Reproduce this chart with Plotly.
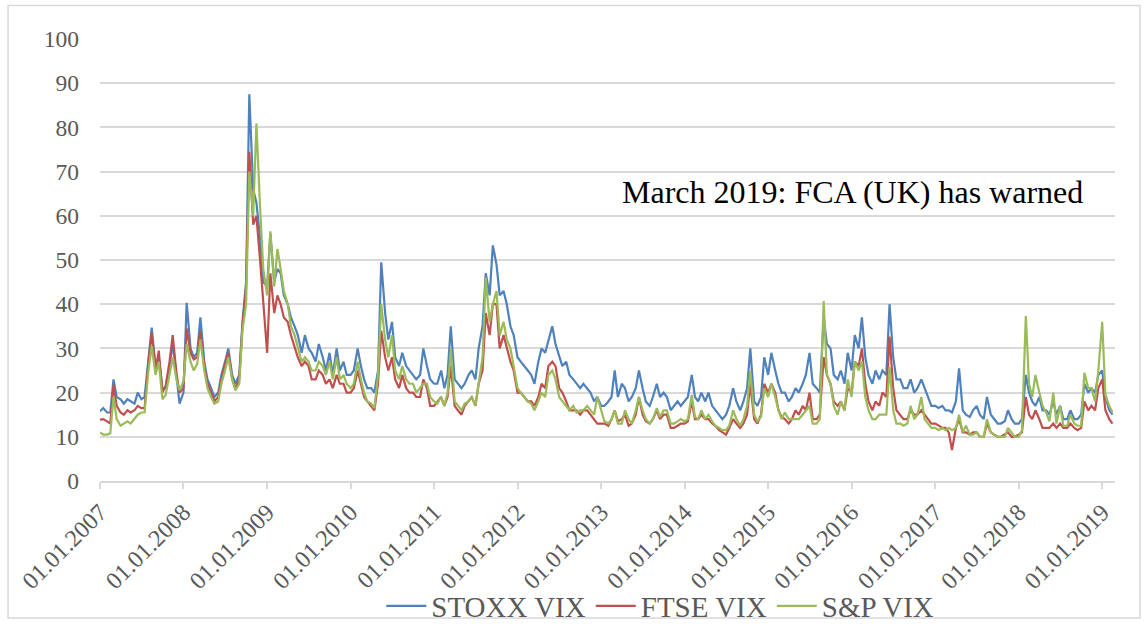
import pandas as pd
import plotly.graph_objects as go

# semi-monthly samples (1st and 15th of each month), 2007-01 .. 2019-02
stoxx_vix = [
    # 2007
    15.8, 16.5, 15.5, 15.5, 23, 19, 18.5, 17.5, 18.5, 18, 17.5, 20, 18.5, 19, 28, 34.7, 26, 28, 21, 21, 26, 31, 24, 17.5,
    # 2008
    20, 40.3, 30, 28, 29, 37, 27, 23, 21, 19, 20, 24, 27, 30, 24, 22, 24, 36, 45, 87.5, 66, 63, 55, 45,
    # 2009
    44, 56, 45, 48, 47, 42, 40, 37, 35, 33, 29, 33, 30, 29, 27, 31, 28, 25, 29, 24, 30, 25, 27, 24,
    # 2010
    24, 25, 30, 26, 23, 21, 21, 20, 25, 49.5, 38, 32, 36, 28, 26, 29, 26, 25, 24, 23, 24, 30, 26, 23,
    # 2011
    22, 22, 25, 21, 24, 35, 23, 22, 21, 22, 24, 25, 23, 30, 35, 47, 42, 53.3, 49, 42, 43, 40, 35, 33,
    # 2012
    28, 27, 26, 25, 24, 22, 27, 30, 29, 32, 35, 31, 28, 26, 27, 24, 23, 22, 21, 22, 21, 20, 18, 19,
    # 2013
    17, 17, 18, 19, 25, 19, 22, 21, 18, 19, 21, 25, 21, 18, 17, 19, 22, 19, 20, 19, 16, 17, 18, 17,
    # 2014
    18, 19, 24, 19, 18, 20, 18, 20, 17, 16, 15, 14, 15, 17, 21, 18, 16, 18, 21, 30, 18, 17, 19, 28,
    # 2015
    24, 29, 25, 22, 20, 20, 18, 19, 21, 20, 22, 24, 29, 22, 21, 20, 37, 31, 30, 24, 23, 25, 22, 29,
    # 2016
    25, 33, 30, 37, 28, 24, 22, 25, 23, 25, 24, 40, 28, 23, 23, 21, 21, 23, 20, 21, 23, 21, 19, 17,
    # 2017
    17, 16.5, 17, 16, 16, 15.5, 18, 25.5, 16, 15, 14.5, 16, 17, 15, 14, 19, 15, 14, 13, 13, 13.5, 16, 14, 13,
    # 2018
    13, 14, 24, 20, 18, 17, 19, 16, 16, 15, 18, 15, 17, 14, 14, 16, 14, 14, 15, 22, 20, 21, 20, 24,
    # 2019
    25, 19, 16, 15,
]

ftse_vix = [
    # 2007
    13.9, 14, 13.5, 13, 21.8, 17, 15.5, 15, 16, 15.5, 16, 17, 16.5, 16.5, 27, 33.5, 25, 29.5, 20, 21.5, 27, 33, 24.5, 20,
    # 2008
    21, 34.5, 29, 27.5, 28, 34, 26, 22, 20, 18, 19, 23, 26.5, 29, 23, 21, 23, 35, 44, 74.5, 58, 60, 50, 40,
    # 2009
    29, 47, 38, 42, 40, 37, 36, 33, 30, 28, 26, 27, 26, 23, 23, 25, 24, 22, 23, 21, 24, 22, 22, 20,
    # 2010
    20, 21, 25, 22, 19, 18, 17, 16, 22, 34, 28, 25, 28, 23, 21, 24, 21, 20, 20, 19, 19, 23, 21, 17,
    # 2011
    17, 18, 19, 17, 19, 26, 17, 16, 15, 17, 18, 19, 17, 22, 25, 38, 33, 40, 40, 30, 33, 30, 27, 25,
    # 2012
    20, 20, 19, 18, 18, 17, 19, 22, 21, 26, 27, 26, 21, 20, 18, 16, 16, 16, 15, 16, 16, 15, 14, 13,
    # 2013
    13, 13, 12.5, 14, 16, 13.5, 14, 15, 12.5, 13, 15, 19, 15, 13.5, 13, 14, 16, 14, 15, 15, 12, 12, 12.5, 13,
    # 2014
    13, 13.5, 18, 14, 14, 15, 14, 14, 13, 12.5, 11.5, 11, 10.5, 12, 14, 13, 12, 13, 15, 22, 14, 13, 15, 22,
    # 2015
    20, 22, 20, 16, 14.5, 14, 13, 14, 16, 15, 17, 16, 20, 14, 14, 15, 28, 24, 22, 18, 17, 18, 16, 21,
    # 2016
    20, 27, 26, 30, 22, 18, 16, 18, 17, 20, 19, 32.7, 21, 16, 15, 14, 14, 16, 15, 15, 16, 15, 14, 13,
    # 2017
    13, 12.5, 12, 12, 11, 7, 12, 14, 11, 11, 10.5, 11, 11, 10, 10, 13, 11, 10.5, 10, 10, 10.5, 11, 10, 10,
    # 2018
    10.5, 11, 19, 15, 14, 16, 14, 12, 12, 12, 13, 12, 13, 12, 12, 13, 12, 11.5, 12, 18, 16, 17, 16, 21,
    # 2019
    23, 16, 14, 13,
]

sp_vix = [
    # 2007
    11, 10.5, 10.5, 10.8, 19, 14, 12.5, 13, 13.5, 13, 14, 15, 15.5, 15.5, 25, 30.5, 24, 27, 18.5, 19.5, 24, 28, 23, 20.5,
    # 2008
    22.5, 31, 27, 25, 26.5, 32, 25, 21, 19, 17.5, 18, 22, 25, 28, 23, 20.5, 22, 34, 40, 70, 60, 80.9, 62, 48,
    # 2009
    42, 56.5, 44, 52.5, 48, 43, 40, 35, 33, 30, 27, 28, 27, 25, 25, 27, 26, 24, 27, 23, 28, 23, 24, 22,
    # 2010
    21, 22, 27, 23, 20, 18, 17.5, 16.5, 24, 40, 32, 28, 33, 25, 23, 26, 23, 22, 22, 20, 21, 22, 22, 19,
    # 2011
    18, 17.5, 19, 17, 20, 30, 18, 17, 16, 17.5, 18, 19, 17, 22, 28, 46, 36, 40, 43, 33, 36, 32, 30, 26,
    # 2012
    21, 20, 19, 18, 17.5, 16, 18, 20, 19, 24, 25, 23, 19, 18, 17, 16, 17, 15.5, 16, 16, 17, 16, 15, 19,
    # 2013
    16, 13.5, 13, 14, 16, 13, 13, 16, 14, 13, 16, 19, 16, 14, 13, 14, 16.5, 14.5, 16, 16, 13, 13, 13.5, 14,
    # 2014
    13.5, 14, 19.5, 14.5, 14, 16, 14, 15, 13.5, 12.5, 12, 11.5, 11.5, 12.5, 16, 14, 12.5, 14, 17, 25, 15, 13.5, 14.5, 21,
    # 2015
    19, 22, 19, 16, 14, 15.5, 14, 14, 14, 14, 15, 16, 17, 13, 13, 14, 40.7, 24, 22, 17, 15, 18, 16, 23,
    # 2016
    19, 27, 25, 27, 19, 16, 14, 14, 15, 15, 15, 25.8, 16, 13, 13, 12.5, 13, 17, 14, 15, 19, 14, 13, 12,
    # 2017
    12, 11.5, 12, 11.5, 12, 11.5, 12, 15, 11, 12.5, 10.5, 10.5, 11, 10, 10, 14, 11, 10.5, 10, 10, 10, 12, 11, 10,
    # 2018
    10, 11.5, 37.3, 22, 19, 24, 20, 17, 15.5, 13.5, 20, 13, 17, 12.5, 12.5, 15, 13, 12.5, 12.5, 24.5, 21, 21, 18, 25,
    # 2019
    36, 19.5, 17, 15.5,
]

dates = pd.date_range("2007-01-01", periods=len(stoxx_vix), freq="SMS")
year_ticks = pd.date_range("2007-01-01", "2019-01-01", freq="YS")

series_names = ["STOXX VIX", "FTSE VIX", "S&P VIX"]
series_colors = ["#4F81BD", "#C0504D", "#9BBB59"]
annotation_text = "March 2019: FCA (UK) has warned"

FONT = "Liberation Serif"
GREY = "#d9d9d9"

fig = go.Figure()
for name, vals, col in zip(series_names, [stoxx_vix, ftse_vix, sp_vix], series_colors):
    fig.add_trace(go.Scatter(x=dates, y=vals, mode="lines", name=name,
                             line=dict(color=col, width=2.2)))

fig.update_layout(
    width=1145, height=624,
    margin=dict(l=100, r=30, t=39, b=143, autoexpand=False),
    paper_bgcolor="white", plot_bgcolor="white",
    font=dict(family=FONT, color="#595959", size=24),
    showlegend=True,
    legend=dict(orientation="h", x=0.552, xanchor="center", y=-0.283, yanchor="middle",
                itemwidth=40, tracegroupgap=0,
                font=dict(family=FONT, size=29, color="#595959"), bgcolor="rgba(0,0,0,0)"),
    xaxis=dict(type="date", range=["2007-01-01", "2019-02-26"], automargin=False,
               tickvals=year_ticks, tickformat="%d.%m.%Y", tickangle=-45,
               showgrid=False, showline=True, linecolor=GREY, linewidth=1.5,
               ticks="outside", tickcolor=GREY, ticklen=6, tickwidth=1.5,
               tickfont=dict(family=FONT, size=24, color="#595959"), zeroline=False),
    yaxis=dict(range=[0, 100], dtick=10, showgrid=True, gridcolor=GREY, gridwidth=1.5,
               showline=False, zeroline=False, ticks="", automargin=False,
               ticklabelstandoff=20,
               tickfont=dict(family=FONT, size=23.5, color="#595959")),
)

fig.add_annotation(text=annotation_text, xref="paper", yref="paper",
                   x=0.512, y=0.654, xanchor="left", yanchor="middle", showarrow=False,
                   font=dict(family=FONT, size=32, color="#000000"))

# outer chart border
fig.add_shape(type="rect", xref="paper", yref="paper",
              x0=-0.0906, x1=1.0246, y0=-0.31, y1=1.0758,
              line=dict(color=GREY, width=1.5), fillcolor="rgba(0,0,0,0)", layer="below")

fig.write_html("out.html", config={"displayModeBar": False},
               post_script="document.body.style.margin='0';document.body.style.overflow='hidden';")
